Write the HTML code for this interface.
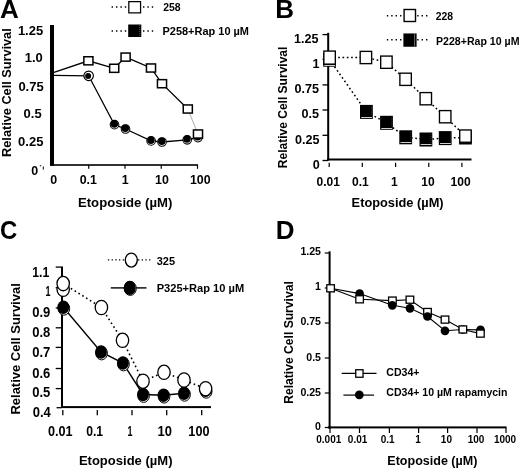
<!DOCTYPE html>
<html><head><meta charset="utf-8"><style>
html,body{margin:0;padding:0;background:#fff;}
svg{display:block;will-change:transform;}
text{font-family:"Liberation Sans", sans-serif;fill:#000;}
</style></head><body>
<svg width="520" height="469" viewBox="0 0 520 469">
<rect width="520" height="469" fill="#fff"/>
<text x="-0.05" y="17.6" font-size="26" font-weight="bold" text-anchor="start">A</text>
<rect x="50" y="25" width="4" height="140.8" fill="#000"/>
<rect x="50" y="164.2" width="148" height="1.6" fill="#000"/>
<line x1="88.75" y1="165" x2="88.75" y2="168.8" stroke="#000" stroke-width="1.2"/>
<line x1="125" y1="165" x2="125" y2="168.8" stroke="#000" stroke-width="1.2"/>
<line x1="161.25" y1="165" x2="161.25" y2="168.8" stroke="#000" stroke-width="1.2"/>
<line x1="197.5" y1="165" x2="197.5" y2="168.8" stroke="#000" stroke-width="1.2"/>
<text x="53.6" y="184.4" font-size="12.4" font-weight="bold" text-anchor="middle">0</text>
<text x="88.3" y="184.4" font-size="12.4" font-weight="bold" text-anchor="middle">0.1</text>
<text x="125.3" y="184.4" font-size="12.4" font-weight="bold" text-anchor="middle">1</text>
<text x="162" y="184.4" font-size="12.4" font-weight="bold" text-anchor="middle">10</text>
<text x="200.3" y="184.4" font-size="12.4" font-weight="bold" text-anchor="middle">100</text>
<text x="43.2" y="34.5" font-size="13" font-weight="bold" text-anchor="end">1.25</text>
<text x="42.8" y="61.9" font-size="13" font-weight="bold" text-anchor="end">1.0</text>
<text x="43.7" y="90.7" font-size="13" font-weight="bold" text-anchor="end">0.75</text>
<text x="41.7" y="117.6" font-size="13" font-weight="bold" text-anchor="end">0.5</text>
<text x="43.4" y="146" font-size="13" font-weight="bold" text-anchor="end">0.25</text>
<text x="31.3" y="174.6" font-size="12.4" font-weight="bold" text-anchor="start">0</text>
<line x1="39.8" y1="165.8" x2="41.2" y2="165.8" stroke="#000" stroke-width="1"/>
<line x1="43.3" y1="166.5" x2="43.3" y2="169.6" stroke="#000" stroke-width="1"/>
<text transform="translate(11.1,92.6) rotate(-90)" x="0" y="0" font-size="12" font-weight="bold" text-anchor="middle" textLength="128.6" lengthAdjust="spacingAndGlyphs">Relative Cell Survival</text>
<text x="78" y="207.3" font-size="12" font-weight="bold" text-anchor="start" textLength="94.3" lengthAdjust="spacingAndGlyphs">Etoposide (µM)</text>
<line x1="111.6" y1="7" x2="128" y2="7" stroke="#000" stroke-width="1.4" stroke-dasharray="1.4 3"/>
<line x1="143" y1="7" x2="154" y2="7" stroke="#000" stroke-width="1.4" stroke-dasharray="1.4 3"/>
<rect x="128.82" y="1.62" width="11.75" height="11.25" fill="#fff" stroke="#000" stroke-width="1.25"/>
<text x="163.2" y="10.9" font-size="11" font-weight="bold" text-anchor="start" textLength="17.4" lengthAdjust="spacingAndGlyphs">258</text>
<line x1="111.6" y1="31" x2="128" y2="31" stroke="#000" stroke-width="1.4" stroke-dasharray="1.4 3"/>
<line x1="143" y1="31" x2="154" y2="31" stroke="#000" stroke-width="1.4" stroke-dasharray="1.4 3"/>
<rect x="128.2" y="24.5" width="13.1" height="12.5" fill="#000"/>
<line x1="139.7" y1="25" x2="139.7" y2="36.5" stroke="#777" stroke-width="0.7" stroke-dasharray="1 1"/>
<text x="162.5" y="34.6" font-size="11" font-weight="bold" text-anchor="start" textLength="86.5" lengthAdjust="spacingAndGlyphs">P258+Rap 10 µM</text>
<polyline points="54,75.4 88.65,75.8 114.5,124.7 125.5,129 151.1,140.9 162,142 187.2,139.8 198,137.6" fill="none" stroke="#000" stroke-width="1.3"/>
<polyline points="54,72.4 88.4,60.8 114.2,68.3 125.6,57.1 151,68 162,83.7 187.8,109" fill="none" stroke="#000" stroke-width="1.3"/>
<line x1="187.8" y1="109" x2="198" y2="134" stroke="#999" stroke-width="0.8"/>
<circle cx="88.65" cy="75.8" r="4.75" fill="#fff" stroke="#000" stroke-width="1.15"/>
<circle cx="88.10000000000001" cy="76.0" r="3.0" fill="#000"/>
<circle cx="114.5" cy="124.7" r="4.3" fill="#fff" stroke="#000" stroke-width="1.05"/>
<circle cx="114.3" cy="123.95" r="3.75" fill="#000"/>
<circle cx="125.5" cy="129" r="4.3" fill="#fff" stroke="#000" stroke-width="1.05"/>
<circle cx="125.3" cy="128.25" r="3.75" fill="#000"/>
<circle cx="151.1" cy="140.9" r="4.3" fill="#fff" stroke="#000" stroke-width="1.05"/>
<circle cx="150.9" cy="140.15" r="3.75" fill="#000"/>
<circle cx="162" cy="142" r="4.3" fill="#fff" stroke="#000" stroke-width="1.05"/>
<circle cx="161.8" cy="141.25" r="3.75" fill="#000"/>
<circle cx="187.2" cy="139.8" r="4.3" fill="#fff" stroke="#000" stroke-width="1.05"/>
<circle cx="187.0" cy="139.05" r="3.75" fill="#000"/>
<circle cx="198" cy="137.6" r="4.3" fill="#fff" stroke="#000" stroke-width="1.05"/>
<circle cx="197.8" cy="136.85" r="3.75" fill="#000"/>
<rect x="83.85" y="56.75" width="9.1" height="8.1" fill="#fff" stroke="#000" stroke-width="1.5"/>
<rect x="109.65" y="64.25" width="9.1" height="8.1" fill="#fff" stroke="#000" stroke-width="1.5"/>
<rect x="121.05" y="53.05" width="9.1" height="8.1" fill="#fff" stroke="#000" stroke-width="1.5"/>
<rect x="146.45" y="63.95" width="9.1" height="8.1" fill="#fff" stroke="#000" stroke-width="1.5"/>
<rect x="157.45" y="79.65" width="9.1" height="8.1" fill="#fff" stroke="#000" stroke-width="1.5"/>
<rect x="183.25" y="104.95" width="9.1" height="8.1" fill="#fff" stroke="#000" stroke-width="1.5"/>
<rect x="193.45" y="129.95" width="9.1" height="8.1" fill="#fff" stroke="#000" stroke-width="1.5"/>
<text x="275.2" y="17.6" font-size="26" font-weight="bold" text-anchor="start">B</text>
<rect x="327.2" y="32.8" width="2" height="127.8" fill="#000"/>
<rect x="327.2" y="158.5" width="144.3" height="2" fill="#000"/>
<line x1="322.5" y1="34.6" x2="328" y2="34.6" stroke="#000" stroke-width="1.3"/>
<line x1="322.5" y1="59.2" x2="328" y2="59.2" stroke="#000" stroke-width="1.3"/>
<line x1="322.5" y1="84.9" x2="328" y2="84.9" stroke="#000" stroke-width="1.3"/>
<line x1="322.5" y1="110" x2="328" y2="110" stroke="#000" stroke-width="1.3"/>
<line x1="322.5" y1="135.3" x2="328" y2="135.3" stroke="#000" stroke-width="1.3"/>
<line x1="322.5" y1="160.5" x2="328" y2="160.5" stroke="#000" stroke-width="1.3"/>
<line x1="329.2" y1="162.7" x2="329.2" y2="167" stroke="#000" stroke-width="1.2"/>
<line x1="362.3" y1="162.7" x2="362.3" y2="167" stroke="#000" stroke-width="1.2"/>
<line x1="395.6" y1="162.7" x2="395.6" y2="167" stroke="#000" stroke-width="1.2"/>
<line x1="428.8" y1="162.7" x2="428.8" y2="167" stroke="#000" stroke-width="1.2"/>
<line x1="461.9" y1="162.7" x2="461.9" y2="167" stroke="#000" stroke-width="1.2"/>
<text x="328.2" y="186" font-size="12" font-weight="bold" text-anchor="middle">0.01</text>
<text x="360.4" y="186" font-size="12" font-weight="bold" text-anchor="middle">0.1</text>
<text x="394.4" y="186" font-size="12" font-weight="bold" text-anchor="middle">1</text>
<text x="428" y="186" font-size="12" font-weight="bold" text-anchor="middle">10</text>
<text x="460.6" y="186" font-size="12" font-weight="bold" text-anchor="middle">100</text>
<text x="318.6" y="42.5" font-size="12.6" font-weight="bold" text-anchor="end">1.25</text>
<text x="319.4" y="67.6" font-size="12.6" font-weight="bold" text-anchor="end">1</text>
<text x="319.1" y="93.0" font-size="12.6" font-weight="bold" text-anchor="end">0.75</text>
<text x="319.1" y="118.0" font-size="12.6" font-weight="bold" text-anchor="end">0.5</text>
<text x="319.4" y="143.5" font-size="12.6" font-weight="bold" text-anchor="end">0.25</text>
<text x="319.8" y="169.1" font-size="12.6" font-weight="bold" text-anchor="end">0</text>
<text transform="translate(287.3,107.4) rotate(-90)" x="0" y="0" font-size="12" font-weight="bold" text-anchor="middle" textLength="121.5" lengthAdjust="spacingAndGlyphs">Relative Cell Survival</text>
<text x="351.6" y="207.2" font-size="12" font-weight="bold" text-anchor="start" textLength="92" lengthAdjust="spacingAndGlyphs">Etoposide (µM)</text>
<line x1="386.8" y1="15.8" x2="403.4" y2="15.8" stroke="#000" stroke-width="1.4" stroke-dasharray="1.4 3"/>
<line x1="417.2" y1="15.8" x2="429" y2="15.8" stroke="#000" stroke-width="1.4" stroke-dasharray="1.4 3"/>
<rect x="404.1" y="9.5" width="11.4" height="12.0" fill="#fff" stroke="#000" stroke-width="1.4"/>
<text x="435.7" y="20.1" font-size="11" font-weight="bold" text-anchor="start" textLength="17.3" lengthAdjust="spacingAndGlyphs">228</text>
<line x1="386.8" y1="39.8" x2="403.4" y2="39.8" stroke="#000" stroke-width="1.4" stroke-dasharray="1.4 3"/>
<line x1="417.2" y1="39.8" x2="429" y2="39.8" stroke="#000" stroke-width="1.4" stroke-dasharray="1.4 3"/>
<rect x="403.4" y="33.45" width="13.2" height="13.3" fill="#000"/>
<line x1="414.6" y1="33.6" x2="414.6" y2="46.6" stroke="#888" stroke-width="0.8"/>
<text x="436" y="44.7" font-size="11" font-weight="bold" text-anchor="start" textLength="83.5" lengthAdjust="spacingAndGlyphs">P228+Rap 10 µM</text>
<polyline points="329.6,59.7 366.4,111.9 386.5,122.8 405.7,137.3 425.9,139.5 445.2,138.1 465.45,137.5" fill="none" stroke="#000" stroke-width="1.5" stroke-dasharray="1.7 2.6"/>
<polyline points="329.6,57.6 365.9,57.5 386.4,62.2 405.6,79.3 425.8,98.7 445.2,116.7 465.45,136.1" fill="none" stroke="#000" stroke-width="1.5" stroke-dasharray="1.7 2.6"/>
<rect x="323.2" y="52.7" width="12.8" height="14" fill="#000"/>
<line x1="324.40000000000003" y1="65.5" x2="335.20000000000005" y2="65.5" stroke="#cfcfcf" stroke-width="1"/>
<line x1="334.8" y1="54.2" x2="334.8" y2="64.2" stroke="#555" stroke-width="0.6" stroke-dasharray="1 1"/>
<rect x="360.0" y="104.9" width="12.8" height="14" fill="#000"/>
<line x1="361.2" y1="117.5" x2="372.0" y2="117.5" stroke="#cfcfcf" stroke-width="1"/>
<line x1="371.59999999999997" y1="106.4" x2="371.59999999999997" y2="116.4" stroke="#555" stroke-width="0.6" stroke-dasharray="1 1"/>
<rect x="380.1" y="115.8" width="12.8" height="14" fill="#000"/>
<line x1="381.3" y1="128.5" x2="392.1" y2="128.5" stroke="#cfcfcf" stroke-width="1"/>
<line x1="391.7" y1="117.3" x2="391.7" y2="127.3" stroke="#555" stroke-width="0.6" stroke-dasharray="1 1"/>
<rect x="399.3" y="130.3" width="12.8" height="14" fill="#000"/>
<line x1="400.5" y1="142.5" x2="411.3" y2="142.5" stroke="#cfcfcf" stroke-width="1"/>
<line x1="410.9" y1="131.8" x2="410.9" y2="141.8" stroke="#555" stroke-width="0.6" stroke-dasharray="1 1"/>
<rect x="419.5" y="132.5" width="12.8" height="14" fill="#000"/>
<line x1="420.7" y1="144.5" x2="431.5" y2="144.5" stroke="#cfcfcf" stroke-width="1"/>
<line x1="431.09999999999997" y1="134.0" x2="431.09999999999997" y2="144.0" stroke="#555" stroke-width="0.6" stroke-dasharray="1 1"/>
<rect x="438.8" y="131.1" width="12.8" height="14" fill="#000"/>
<line x1="440.0" y1="143.5" x2="450.8" y2="143.5" stroke="#cfcfcf" stroke-width="1"/>
<line x1="450.4" y1="132.6" x2="450.4" y2="142.6" stroke="#555" stroke-width="0.6" stroke-dasharray="1 1"/>
<rect x="459.05" y="130.5" width="12.8" height="14" fill="#000"/>
<rect x="323.88" y="51.07" width="11.45" height="13.05" fill="#fff" stroke="#000" stroke-width="1.35"/>
<rect x="360.18" y="51.38" width="11.45" height="12.25" fill="#fff" stroke="#000" stroke-width="1.35"/>
<rect x="380.68" y="56.08" width="11.45" height="12.25" fill="#fff" stroke="#000" stroke-width="1.35"/>
<rect x="399.88" y="73.17" width="11.45" height="12.25" fill="#fff" stroke="#000" stroke-width="1.35"/>
<rect x="420.08" y="92.58" width="11.45" height="12.25" fill="#fff" stroke="#000" stroke-width="1.35"/>
<rect x="439.48" y="110.58" width="11.45" height="12.25" fill="#fff" stroke="#000" stroke-width="1.35"/>
<rect x="459.73" y="129.97" width="11.45" height="12.25" fill="#fff" stroke="#000" stroke-width="1.35"/>
<text transform="translate(0.05,239.07) scale(0.92,1)" font-size="26" font-weight="bold">C</text>
<rect x="61" y="266.5" width="2" height="141" fill="#000"/>
<rect x="61" y="406.1" width="150" height="2" fill="#000"/>
<line x1="55.7" y1="267.1" x2="61.5" y2="267.1" stroke="#000" stroke-width="1.3"/>
<line x1="55.7" y1="287.7" x2="61.5" y2="287.7" stroke="#000" stroke-width="1.3"/>
<line x1="55.7" y1="308" x2="61.5" y2="308" stroke="#000" stroke-width="1.3"/>
<line x1="55.7" y1="327.8" x2="61.5" y2="327.8" stroke="#000" stroke-width="1.3"/>
<line x1="55.7" y1="347.4" x2="61.5" y2="347.4" stroke="#000" stroke-width="1.3"/>
<line x1="55.7" y1="368.5" x2="61.5" y2="368.5" stroke="#000" stroke-width="1.3"/>
<line x1="55.7" y1="388.6" x2="61.5" y2="388.6" stroke="#000" stroke-width="1.3"/>
<line x1="56.6" y1="407.7" x2="61.5" y2="407.7" stroke="#000" stroke-width="1.3"/>
<line x1="62.8" y1="410" x2="62.8" y2="415.2" stroke="#000" stroke-width="1.3"/>
<line x1="97.3" y1="410" x2="97.3" y2="415.2" stroke="#000" stroke-width="1.3"/>
<line x1="132" y1="410" x2="132" y2="415.2" stroke="#000" stroke-width="1.3"/>
<line x1="166.7" y1="410" x2="166.7" y2="415.2" stroke="#000" stroke-width="1.3"/>
<line x1="201.7" y1="410" x2="201.7" y2="415.2" stroke="#000" stroke-width="1.3"/>
<text x="60.3" y="436" font-size="14" font-weight="bold" text-anchor="middle" textLength="24.6" lengthAdjust="spacingAndGlyphs">0.01</text>
<text x="94.6" y="436" font-size="14" font-weight="bold" text-anchor="middle" textLength="16.9" lengthAdjust="spacingAndGlyphs">0.1</text>
<text x="130.1" y="436" font-size="14" font-weight="bold" text-anchor="middle" textLength="5" lengthAdjust="spacingAndGlyphs">1</text>
<text x="164.7" y="436" font-size="14" font-weight="bold" text-anchor="middle" textLength="14.4" lengthAdjust="spacingAndGlyphs">10</text>
<text x="198.9" y="436" font-size="14" font-weight="bold" text-anchor="middle" textLength="21.1" lengthAdjust="spacingAndGlyphs">100</text>
<text x="49.2" y="277.3" font-size="14" font-weight="bold" text-anchor="end" textLength="17.0" lengthAdjust="spacingAndGlyphs">1.1</text>
<text x="50.4" y="296" font-size="14" font-weight="bold" text-anchor="end" textLength="5" lengthAdjust="spacingAndGlyphs">1</text>
<text x="50.3" y="316.6" font-size="14" font-weight="bold" text-anchor="end" textLength="18.1" lengthAdjust="spacingAndGlyphs">0.9</text>
<text x="50.3" y="336.5" font-size="14" font-weight="bold" text-anchor="end" textLength="18.1" lengthAdjust="spacingAndGlyphs">0.8</text>
<text x="50.3" y="356.6" font-size="14" font-weight="bold" text-anchor="end" textLength="18.1" lengthAdjust="spacingAndGlyphs">0.7</text>
<text x="50.3" y="377.6" font-size="14" font-weight="bold" text-anchor="end" textLength="18.1" lengthAdjust="spacingAndGlyphs">0.6</text>
<text x="50.3" y="397.3" font-size="14" font-weight="bold" text-anchor="end" textLength="18.1" lengthAdjust="spacingAndGlyphs">0.5</text>
<text x="50.8" y="416.6" font-size="14" font-weight="bold" text-anchor="end" textLength="18.1" lengthAdjust="spacingAndGlyphs">0.4</text>
<text transform="translate(20,348.9) rotate(-90)" x="0" y="0" font-size="12" font-weight="bold" text-anchor="middle" textLength="131.3" lengthAdjust="spacingAndGlyphs">Relative Cell Survival</text>
<text x="78.9" y="465" font-size="12" font-weight="bold" text-anchor="start" textLength="93.6" lengthAdjust="spacingAndGlyphs">Etoposide (µM)</text>
<line x1="107.9" y1="259.9" x2="124.8" y2="259.9" stroke="#000" stroke-width="1.3" stroke-dasharray="1.3 2.4"/>
<line x1="138" y1="259.9" x2="150.5" y2="259.9" stroke="#000" stroke-width="1.3" stroke-dasharray="1.3 2.4"/>
<ellipse cx="131.3" cy="260.1" rx="6.0" ry="7.0" fill="#fff" stroke="#000" stroke-width="1.4"/>
<text x="156.7" y="264.9" font-size="11" font-weight="bold" text-anchor="start" textLength="18.3" lengthAdjust="spacingAndGlyphs">325</text>
<line x1="110.8" y1="287.8" x2="146.5" y2="287.8" stroke="#333" stroke-width="1.7"/>
<ellipse cx="130.3" cy="288.4" rx="6.0" ry="7.0" fill="#fff" stroke="#000" stroke-width="1"/>
<ellipse cx="129.7" cy="287.9" rx="6.1" ry="7.1" fill="#000"/>
<text x="156.7" y="292.1" font-size="11" font-weight="bold" text-anchor="start" textLength="87.5" lengthAdjust="spacingAndGlyphs">P325+Rap 10 µM</text>
<polyline points="63.3,307.3 101,352 122.9,363 143,394.5 163.5,395.2 184,393.3" fill="none" stroke="#000" stroke-width="1.4"/>
<polyline points="63.2,283.6 101.4,307.5 122.5,340.3 143,381.2 164,372.3 184,380 205.6,388.7" fill="none" stroke="#000" stroke-width="1.6" stroke-dasharray="1.6 2.9"/>
<ellipse cx="63.9" cy="308.40000000000003" rx="5.8" ry="6.8" fill="#fff" stroke="#000" stroke-width="1.0"/>
<ellipse cx="63.3" cy="307.3" rx="5.95" ry="6.7" fill="#000"/>
<ellipse cx="101.6" cy="353.1" rx="5.8" ry="6.8" fill="#fff" stroke="#000" stroke-width="1.0"/>
<ellipse cx="101" cy="352" rx="5.95" ry="6.7" fill="#000"/>
<ellipse cx="123.5" cy="364.1" rx="5.8" ry="6.8" fill="#fff" stroke="#000" stroke-width="1.0"/>
<ellipse cx="122.9" cy="363" rx="5.95" ry="6.7" fill="#000"/>
<ellipse cx="143.6" cy="395.6" rx="5.8" ry="6.8" fill="#fff" stroke="#000" stroke-width="1.0"/>
<ellipse cx="143" cy="394.5" rx="5.95" ry="6.7" fill="#000"/>
<ellipse cx="164.1" cy="396.3" rx="5.8" ry="6.8" fill="#fff" stroke="#000" stroke-width="1.0"/>
<ellipse cx="163.5" cy="395.2" rx="5.95" ry="6.7" fill="#000"/>
<ellipse cx="184.6" cy="394.40000000000003" rx="5.8" ry="6.8" fill="#fff" stroke="#000" stroke-width="1.0"/>
<ellipse cx="184" cy="393.3" rx="5.95" ry="6.7" fill="#000"/>
<ellipse cx="206.2" cy="391.40000000000003" rx="5.8" ry="6.8" fill="#fff" stroke="#000" stroke-width="1.0"/>
<ellipse cx="205.6" cy="390.3" rx="5.95" ry="6.7" fill="#000"/>
<ellipse cx="63.2" cy="289.3" rx="6.2" ry="7.15" fill="#fff" stroke="#000" stroke-width="1.3"/>
<ellipse cx="63.2" cy="283.6" rx="6.2" ry="7.15" fill="#fff" stroke="#000" stroke-width="1.3"/>
<ellipse cx="101.4" cy="307.5" rx="6.2" ry="7.15" fill="#fff" stroke="#000" stroke-width="1.3"/>
<ellipse cx="122.5" cy="340.3" rx="6.2" ry="7.15" fill="#fff" stroke="#000" stroke-width="1.3"/>
<ellipse cx="143" cy="381.2" rx="6.2" ry="7.15" fill="#fff" stroke="#000" stroke-width="1.3"/>
<ellipse cx="164" cy="372.3" rx="6.2" ry="7.15" fill="#fff" stroke="#000" stroke-width="1.3"/>
<ellipse cx="184" cy="380" rx="6.2" ry="7.15" fill="#fff" stroke="#000" stroke-width="1.3"/>
<ellipse cx="205.6" cy="388.7" rx="6.2" ry="7.15" fill="#fff" stroke="#000" stroke-width="1.3"/>
<text x="275.8" y="238.8" font-size="26" font-weight="bold" text-anchor="start">D</text>
<rect x="328.6" y="251.3" width="2" height="177.3" fill="#000"/>
<rect x="328" y="426.4" width="178.6" height="2" fill="#000"/>
<line x1="324.8" y1="253" x2="329" y2="253" stroke="#000" stroke-width="1.2"/>
<line x1="324.8" y1="288" x2="329" y2="288" stroke="#000" stroke-width="1.2"/>
<line x1="324.8" y1="323" x2="329" y2="323" stroke="#000" stroke-width="1.2"/>
<line x1="324.8" y1="358" x2="329" y2="358" stroke="#000" stroke-width="1.2"/>
<line x1="324.8" y1="393" x2="329" y2="393" stroke="#000" stroke-width="1.2"/>
<line x1="324.8" y1="427.5" x2="329" y2="427.5" stroke="#000" stroke-width="1.2"/>
<line x1="330" y1="428" x2="330" y2="433" stroke="#000" stroke-width="1.2"/>
<line x1="359.5" y1="428" x2="359.5" y2="433" stroke="#000" stroke-width="1.2"/>
<line x1="389.4" y1="428" x2="389.4" y2="433" stroke="#000" stroke-width="1.2"/>
<line x1="418.6" y1="428" x2="418.6" y2="433" stroke="#000" stroke-width="1.2"/>
<line x1="447.6" y1="428" x2="447.6" y2="433" stroke="#000" stroke-width="1.2"/>
<line x1="477" y1="428" x2="477" y2="433" stroke="#000" stroke-width="1.2"/>
<line x1="506" y1="428" x2="506" y2="433" stroke="#000" stroke-width="1.2"/>
<text x="321.0" y="255.3" font-size="10.6" font-weight="bold" text-anchor="end">1.25</text>
<text x="321.0" y="290.4" font-size="10.6" font-weight="bold" text-anchor="end">1</text>
<text x="321.0" y="325.4" font-size="10.6" font-weight="bold" text-anchor="end">0.75</text>
<text x="321.0" y="360.5" font-size="10.6" font-weight="bold" text-anchor="end">0.5</text>
<text x="321.0" y="395.5" font-size="10.6" font-weight="bold" text-anchor="end">0.25</text>
<text x="321.0" y="429.8" font-size="10.6" font-weight="bold" text-anchor="end">0</text>
<text x="328.8" y="443.2" font-size="10" font-weight="bold" text-anchor="middle">0.001</text>
<text x="357.6" y="443.2" font-size="10" font-weight="bold" text-anchor="middle">0.01</text>
<text x="387.6" y="443.2" font-size="10" font-weight="bold" text-anchor="middle">0.1</text>
<text x="418" y="443.2" font-size="10" font-weight="bold" text-anchor="middle">1</text>
<text x="446.4" y="443.2" font-size="10" font-weight="bold" text-anchor="middle">10</text>
<text x="476" y="443.2" font-size="10" font-weight="bold" text-anchor="middle">100</text>
<text x="505" y="443.2" font-size="10" font-weight="bold" text-anchor="middle">1000</text>
<text transform="translate(293.1,342.5) rotate(-90)" x="0" y="0" font-size="12" font-weight="bold" text-anchor="middle" textLength="122.6" lengthAdjust="spacingAndGlyphs">Relative Cell Survival</text>
<text x="387.3" y="465.3" font-size="12" font-weight="bold" text-anchor="start" textLength="90.1" lengthAdjust="spacingAndGlyphs">Etoposide (µM)</text>
<line x1="341.7" y1="373.3" x2="376.5" y2="373.3" stroke="#000" stroke-width="1.2"/>
<rect x="355.75" y="369.75" width="7.3" height="7.5" fill="#fff" stroke="#000" stroke-width="1.3"/>
<text x="386.3" y="376.3" font-size="10.5" font-weight="bold" text-anchor="start" textLength="33.2" lengthAdjust="spacingAndGlyphs">CD34+</text>
<line x1="343.4" y1="395.1" x2="374.1" y2="395.1" stroke="#000" stroke-width="1.2"/>
<circle cx="359.3" cy="394.8" r="4.4" fill="#000"/>
<text x="386.3" y="396.4" font-size="10.5" font-weight="bold" text-anchor="start" textLength="121.2" lengthAdjust="spacingAndGlyphs">CD34+ 10 µM rapamycin</text>
<polyline points="330.6,288.3 359.6,293.6 392.3,305.3 410,308.3 427.5,316.5 445,330.8 462.8,329.5 480.5,329.9" fill="none" stroke="#000" stroke-width="1.1"/>
<polyline points="330.6,288.3 359.6,299.3 392.4,300.6 409.9,299.7 427.5,312 445,319.6 462.85,329.45 480.4,333.6" fill="none" stroke="#000" stroke-width="1.1"/>
<circle cx="359.6" cy="293.6" r="4.35" fill="#000"/>
<circle cx="462.8" cy="329.5" r="4.35" fill="#000"/>
<circle cx="480.5" cy="329.9" r="4.35" fill="#000"/>
<rect x="326.8" y="284.75" width="7.6" height="7.1" fill="#fff" stroke="#000" stroke-width="1.3"/>
<rect x="355.8" y="295.75" width="7.6" height="7.1" fill="#fff" stroke="#000" stroke-width="1.3"/>
<rect x="388.6" y="297.05" width="7.6" height="7.1" fill="#fff" stroke="#000" stroke-width="1.3"/>
<rect x="406.1" y="296.15" width="7.6" height="7.1" fill="#fff" stroke="#000" stroke-width="1.3"/>
<rect x="423.7" y="308.45" width="7.6" height="7.1" fill="#fff" stroke="#000" stroke-width="1.3"/>
<rect x="441.2" y="316.05" width="7.6" height="7.1" fill="#fff" stroke="#000" stroke-width="1.3"/>
<rect x="459.05" y="325.9" width="7.6" height="7.1" fill="#fff" stroke="#000" stroke-width="1.3"/>
<rect x="476.6" y="330.05" width="7.6" height="7.1" fill="#fff" stroke="#000" stroke-width="1.3"/>
<circle cx="392.3" cy="305.3" r="4.35" fill="#000"/>
<circle cx="410" cy="308.3" r="4.35" fill="#000"/>
<circle cx="427.5" cy="316.5" r="4.35" fill="#000"/>
<circle cx="445" cy="330.8" r="4.35" fill="#000"/>
</svg>
</body></html>
